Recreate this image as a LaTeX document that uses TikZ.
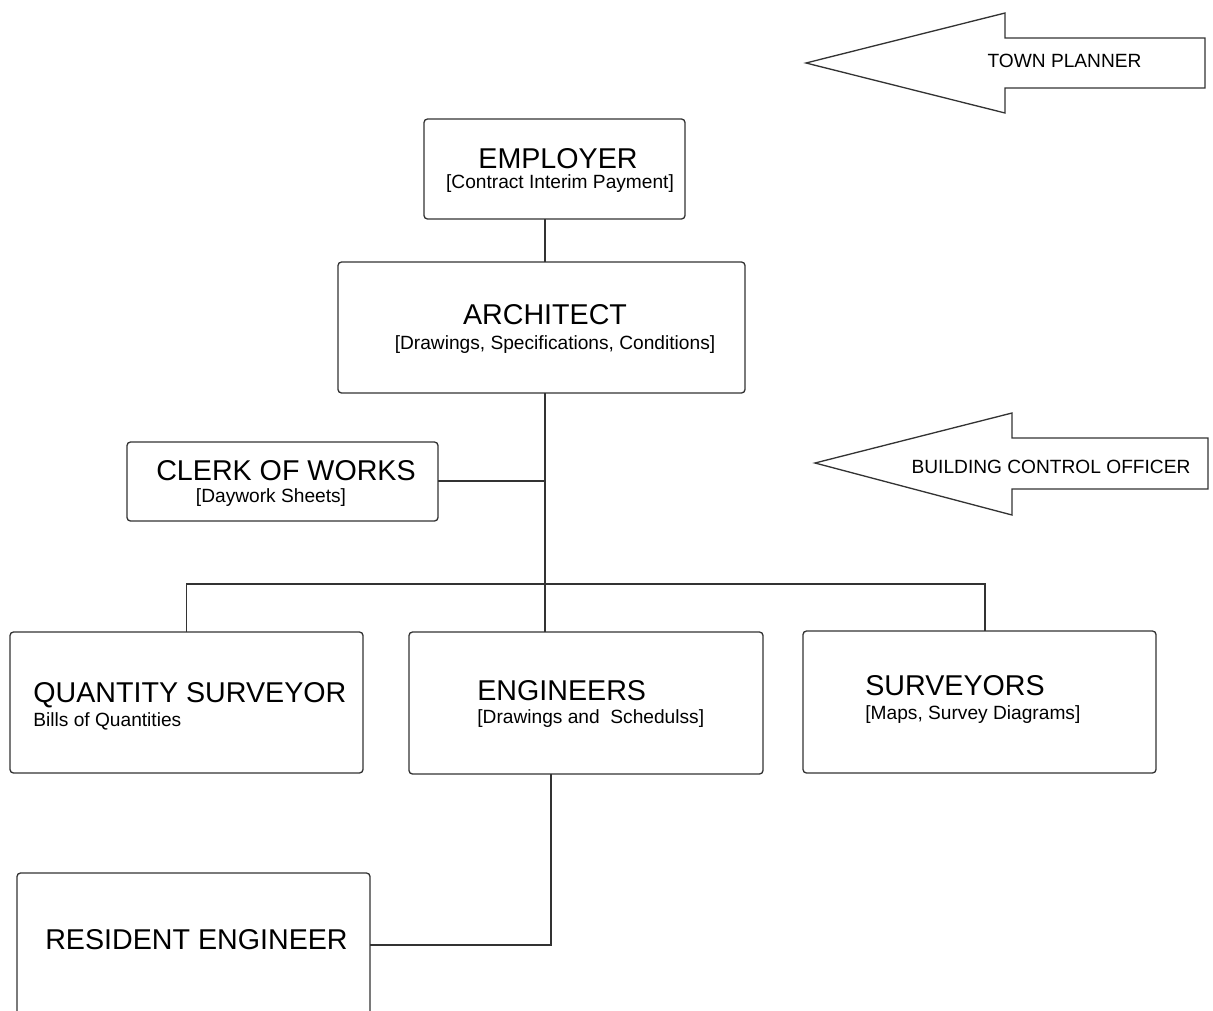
\documentclass[tikz,border=0pt]{standalone}
\usepackage{xcolor}
\usepackage{fontspec}
\setmainfont{Liberation Sans}
\usepackage{tikz}

\newcommand{\bigtxt}{\fontsize{16.3}{19}\selectfont}
\newcommand{\smalltxt}{\fontsize{10.9}{13}\selectfont}

\begin{document}
\begin{tikzpicture}[
        unit/.style={
            draw=black!80,
            line width=0.75pt,
            rounded corners=0.07cm,
            inner sep=0pt,
            outer sep=0pt
        },
        link/.style={
            draw=black!80,
            line width=0.75pt
        },
        title/.style={inner sep=0pt, font=\bigtxt},
        subtitle/.style={inner sep=0pt, font=\smalltxt},
        hint/.style={
            draw=black!80,
            line width=0.75pt
        }
    ]
                \useasboundingbox (0,0) rectangle (24.26,-20.2);
                \clip (0,0) rectangle (24.26,-20.2);

                % outside bodies
                \draw[hint] (16.12,-1.26) -- (20.1,-0.26) -- (20.1,-0.76) -- (24.1,-0.76)
                    -- (24.1,-1.76) -- (20.1,-1.76) -- (20.1,-2.26) -- cycle;
                \node[subtitle, anchor=base] (planner) at (21.29,-1.34) {TOWN PLANNER};

                \draw[hint] (16.3,-9.26) -- (20.24,-8.26) -- (20.24,-8.76) -- (24.16,-8.76)
                    -- (24.16,-9.78) -- (20.24,-9.78) -- (20.24,-10.3) -- cycle;
                \node[subtitle, anchor=base] (bco) at (21.02,-9.46) {BUILDING CONTROL OFFICER};

                % boxes
                \node[unit, minimum width=5.22cm, minimum height=2.00cm] (employer) at (11.09,-3.38) {};
                \node[unit, minimum width=8.14cm, minimum height=2.62cm] (architect) at (10.83,-6.55) {};
                \node[unit, minimum width=6.22cm, minimum height=1.58cm] (clerk) at (5.65,-9.63) {};
                \node[unit, minimum width=7.06cm, minimum height=2.82cm] (qs) at (3.73,-14.05) {};
                \node[unit, minimum width=7.08cm, minimum height=2.84cm] (engineers) at (11.72,-14.06) {};
                \node[unit, minimum width=7.06cm, minimum height=2.84cm] (surveyors) at (19.59,-14.04) {};
                \node[unit, minimum width=7.06cm, minimum height=2.88cm] (resident) at (3.87,-18.9) {};

                % texts
                \node[title, anchor=base] (employer-t) at (11.16,-3.36) {EMPLOYER};
                \node[subtitle, anchor=base] (employer-s) at (11.2,-3.76) {[Contract Interim Payment]};

                \node[title, anchor=base] (architect-t) at (10.9,-6.48) {ARCHITECT};
                \node[subtitle, anchor=base] (architect-s) at (11.1,-6.98) {[Drawings, Specifications, Conditions]};

                \node[title, anchor=base] (clerk-t) at (5.72,-9.6) {CLERK OF WORKS};
                \node[subtitle, anchor=base] (clerk-s) at (5.42,-10.04) {[Daywork Sheets]};

                \node[title, anchor=base west] (qs-t) at (0.66,-14.04) {QUANTITY SURVEYOR};
                \node[subtitle, anchor=base west] (qs-s) at (0.66,-14.52) {Bills of Quantities};

                \node[title, anchor=base west] (engineers-t) at (9.54,-14.0) {ENGINEERS};
                \node[subtitle, anchor=base west] (engineers-s) at (9.54,-14.46) {[Drawings and\ \ Schedulss]};

                \node[title, anchor=base west] (surveyors-t) at (17.3,-13.9) {SURVEYORS};
                \node[subtitle, anchor=base west] (surveyors-s) at (17.3,-14.38) {[Maps, Survey Diagrams]};

                \node[title, anchor=base] (resident-t) at (3.93,-18.98) {RESIDENT ENGINEER};

                % connections
                \coordinate (hub) at (10.9,-11.68);
                \coordinate (tail) at (11.02,-18.9);

                \draw[link] (employer.south -| hub) -- (architect.north -| hub);
                \draw[link] (architect.south -| hub) -- (hub);
                \draw[link] ([yshift=0.01cm]clerk.east) -- ([yshift=0.01cm]clerk.east -| hub);
                \draw[link] (qs.north) |- (hub) -| ([xshift=0.11cm]surveyors.north);
                \draw[link] (hub) -- (engineers.north -| hub);
                \draw[link] (engineers.south -| tail) |- (resident.east);

\end{tikzpicture}
\end{document}
